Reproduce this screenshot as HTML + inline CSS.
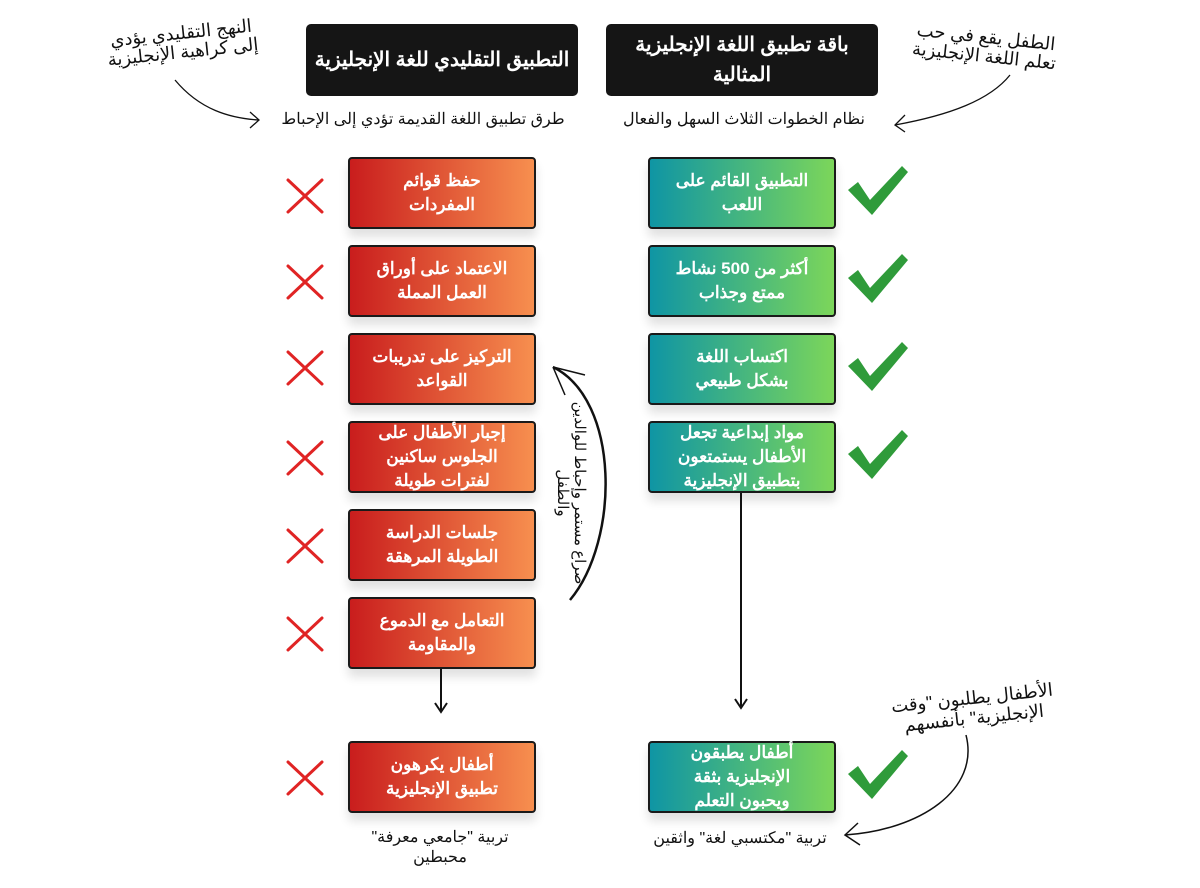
<!DOCTYPE html>
<html><head><meta charset="utf-8"><style>
body{margin:0;width:1200px;height:888px;background:#fff;position:relative;overflow:hidden;font-family:"Liberation Sans","Noto Sans CJK SC",sans-serif;}
.a{position:absolute}
.hd{position:absolute;background:#151515;color:#fff;font-weight:bold;font-size:20px;border-radius:5px;display:flex;align-items:center;justify-content:center;text-align:center;line-height:30px;direction:rtl}
.bx{position:absolute;width:184px;height:68px;border:2px solid #1a1a1a;border-radius:4px;color:#fff;font-weight:bold;font-size:17px;line-height:24px;display:flex;align-items:center;justify-content:center;text-align:center;direction:rtl;box-shadow:0 8px 10px rgba(0,0,0,0.12)}
.r{left:348px;background:linear-gradient(90deg,#c91d1d,#f78f4f)}
.g{left:648px;background:linear-gradient(90deg,#0f95a4,#7cd65a)}
.t{position:absolute;font-size:15px;color:#111;direction:rtl;text-align:center}
</style></head><body>
<div class="hd" style="left:306px;top:24px;width:272px;height:72px">التطبيق التقليدي للغة الإنجليزية</div>
<div class="hd" style="left:606px;top:24px;width:272px;height:72px">باقة تطبيق اللغة الإنجليزية<br>المثالية</div>
<div class="t" style="left:258px;top:109px;width:330px;font-size:16px">طرق تطبيق اللغة القديمة تؤدي إلى الإحباط</div>
<div class="t" style="left:596px;top:109px;width:296px;font-size:16px">نظام الخطوات الثلاث السهل والفعال</div>
<div class="t" style="left:92px;top:24px;width:180px;font-size:18px;line-height:19px;transform:rotate(-6deg)">النهج التقليدي يؤدي<br>إلى كراهية الإنجليزية</div>
<div class="t" style="left:895px;top:28px;width:180px;font-size:18px;line-height:19px;transform:rotate(6deg)">الطفل يقع في حب<br>تعلم اللغة الإنجليزية</div>

<div class="bx r" style="top:157px">حفظ قوائم<br>المفردات</div>
<div class="bx r" style="top:245px">الاعتماد على أوراق<br>العمل المملة</div>
<div class="bx r" style="top:333px">التركيز على تدريبات<br>القواعد</div>
<div class="bx r" style="top:421px">إجبار الأطفال على<br>الجلوس ساكنين<br>لفترات طويلة</div>
<div class="bx r" style="top:509px">جلسات الدراسة<br>الطويلة المرهقة</div>
<div class="bx r" style="top:597px">التعامل مع الدموع<br>والمقاومة</div>
<div class="bx r" style="top:741px">أطفال يكرهون<br>تطبيق الإنجليزية</div>

<div class="bx g" style="top:157px">التطبيق القائم على<br>اللعب</div>
<div class="bx g" style="top:245px">أكثر من 500 نشاط<br>ممتع وجذاب</div>
<div class="bx g" style="top:333px">اكتساب اللغة<br>بشكل طبيعي</div>
<div class="bx g" style="top:421px">مواد إبداعية تجعل<br>الأطفال يستمتعون<br>بتطبيق الإنجليزية</div>
<div class="bx g" style="top:741px">أطفال يطبقون<br>الإنجليزية بثقة<br>ويحبون التعلم</div>

<div class="t" style="left:340px;top:828px;width:200px;line-height:20px;font-size:16px">تربية "جامعي معرفة"<br>محبطين</div>
<div class="t" style="left:640px;top:828px;width:200px;font-size:16px">تربية "مكتسبي لغة" واثقين</div>
<div class="t" style="left:868px;top:688px;width:210px;font-size:18px;line-height:20px;transform:rotate(-6deg)">الأطفال يطلبون "وقت<br>الإنجليزية" بأنفسهم</div>
<div class="t" style="left:466px;top:476px;width:210px;font-size:15px;line-height:17px;transform:rotate(90deg)">صراع مستمر وإحباط للوالدين<br>والطفل</div>

<svg class="a" style="left:0;top:0" width="1200" height="888">
<g stroke="#111" stroke-width="2" fill="none">
<line x1="441" y1="669" x2="441" y2="710"/><path d="M435 703 L441 712 L447 703"/>
<line x1="741" y1="493" x2="741" y2="706"/><path d="M735 699 L741 708 L747 699"/>
<path d="M175 80 C200 110 230 118 258 120" stroke-width="1.3"/><path d="M250 112 L259 120 L250 128" stroke-width="1.3"/>
<path d="M1010 75 C990 100 950 115 895 125" stroke-width="1.3"/><path d="M905 115 L895 125 L905 132" stroke-width="1.3"/>
<path d="M966 735 C980 790 920 830 845 835" stroke-width="1.5"/><path d="M858 823 L845 835 L860 845" stroke-width="1.5"/>
<path d="M553 367 C620 400 620 540 570 600" stroke-width="2.5"/><path d="M553 367 L585 375 M553 367 L565 395" stroke-width="1.5"/>
</g>
<g stroke="#e02424" stroke-width="3" fill="none" stroke-linecap="round">
<path d="M288 180 L322 212 M322 180 L288 212"/>
<path d="M288 266 L322 298 M322 266 L288 298"/>
<path d="M288 352 L322 384 M322 352 L288 384"/>
<path d="M288 442 L322 474 M322 442 L288 474"/>
<path d="M288 530 L322 562 M322 530 L288 562"/>
<path d="M288 618 L322 650 M322 618 L288 650"/>
<path d="M288 762 L322 794 M322 762 L288 794"/>
</g>
<g fill="#2f9b3a">
<path d="M848 190 L858 182 L870 200 L902 166 L908 172 L872 215 Z"/>
<path d="M848 278 L858 270 L870 288 L902 254 L908 260 L872 303 Z"/>
<path d="M848 366 L858 358 L870 376 L902 342 L908 348 L872 391 Z"/>
<path d="M848 454 L858 446 L870 464 L902 430 L908 436 L872 479 Z"/>
<path d="M848 774 L858 766 L870 784 L902 750 L908 756 L872 799 Z"/>
</g>
</svg>
</body></html>
